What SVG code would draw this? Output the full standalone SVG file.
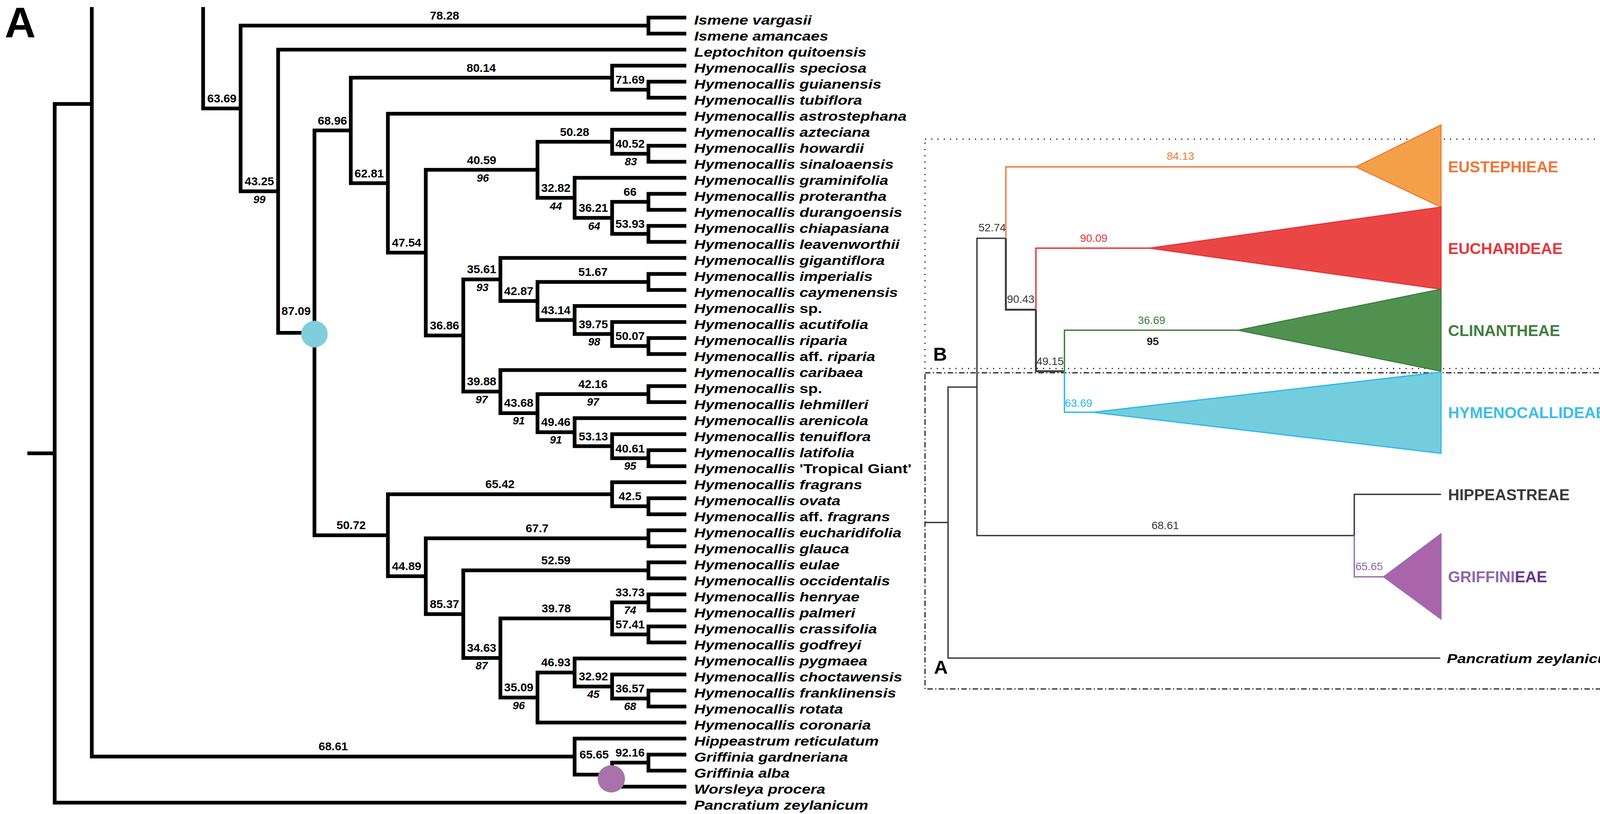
<svg xmlns="http://www.w3.org/2000/svg" width="6333" height="2083" viewBox="0 0 6333 2083">
<style>
.br{fill:none;stroke:#000;stroke-width:9.5;stroke-linejoin:miter;stroke-linecap:butt}
.t{font-family:'Liberation Sans',Arial,sans-serif;font-weight:bold;font-style:italic;font-size:34px;fill:#000}
.u{font-style:normal}
.n{font-family:'Liberation Sans',Arial,sans-serif;font-weight:bold;font-size:30px;text-anchor:middle;fill:#000}
.s{font-family:'Liberation Sans',Arial,sans-serif;font-weight:bold;font-style:italic;font-size:28px;text-anchor:middle;fill:#000}
.m{font-family:'Liberation Sans',Arial,sans-serif;font-size:28px;text-anchor:middle}
.c{font-family:'Liberation Sans',Arial,sans-serif;font-weight:bold;font-size:40px}
.th{fill:none;stroke-width:3.5;stroke-linejoin:miter;stroke-linecap:butt}
.pl{font-family:'Liberation Sans',Arial,sans-serif;font-weight:bold;fill:#000}
</style>
<rect width="6333" height="2083" fill="#fff"/>

<!-- ===== Panel A : left tree ===== -->
<text id="label-A" class="pl" x="12" y="95" font-size="110">A</text>
<g id="treeA-connectors" class="br">
<path d="M1757 45H1660V86H1757M1757 209H1660V250H1757M1757 373H1660V414H1757M1757 496H1660V537H1757M1757 578H1660V619H1757M1757 701H1660V742H1757M1757 865H1660V906H1757M1757 988H1660V1029H1757M1757 1152H1660V1193H1757M1757 1275H1660V1316H1757M1757 1357H1660V1398H1757M1757 1439H1660V1480H1757M1757 1521H1660V1562H1757M1757 1603H1660V1644H1757M1757 1767H1660V1808H1757M1757 1931H1660V1972H1757"/>
<path d="M1757 168H1567V229.5H1660"/>
<path d="M1757 332H1567V393.5H1660"/>
<path d="M1660 516.5H1567V598.5H1660"/>
<path d="M1757 824H1567V885.5H1660"/>
<path d="M1757 1111H1567V1172.5H1660"/>
<path d="M1757 1234H1567V1295.5H1660"/>
<path d="M1660 1541.5H1567V1623.5H1660"/>
<path d="M1757 1726H1567V1787.5H1660"/>
<path d="M1660 1951.5H1567V2013H1757"/>
<path d="M1757 455H1471V557.5H1567"/>
<path d="M1757 783H1471V854.75H1567"/>
<path d="M1757 1070H1471V1141.75H1567"/>
<path d="M1757 1685H1471V1756.75H1567"/>
<path d="M1757 1890H1471V1982.25H1567"/>
<path d="M1567 362.75H1376V506.25H1471"/>
<path d="M1660 721.5H1376V818.9H1471"/>
<path d="M1660 1008.5H1376V1105.9H1471"/>
<path d="M1471 1720.9H1376V1849H1757"/>
<path d="M1757 660H1281V770.2H1376"/>
<path d="M1757 947H1281V1057.2H1376"/>
<path d="M1567 1582.5H1281V1785H1376"/>
<path d="M1281 715.1H1186V1002.1H1281"/>
<path d="M1660 1459.5H1186V1683.7H1281"/>
<path d="M1376 434.5H1090V858.6H1186"/>
<path d="M1660 1377.5H1090V1571.6H1186"/>
<path d="M1757 291H993V646.5H1090"/>
<path d="M1567 1264.75H993V1474.6H1090"/>
<path d="M1567 198.75H898V468.8H993"/>
<path d="M898 333.8H805V1369.7H993"/>
<path d="M1757 127H712V851.7H805"/>
<path d="M1660 65.5H616V489.4H712"/>
<path d="M520 18V277.4H616"/>
<path d="M235 18V1936.1H1471"/>
<path d="M235 266H140V2054H1757"/>
<path d="M70 1160H140"/>
</g>
<g id="treeA-markers">
<circle cx="805" cy="855" r="34" fill="#80CEDC"/>
<circle cx="1565" cy="1993" r="35" fill="#A873A8"/>
</g>
<g id="treeA-branch-labels" class="n">
<text x="1138" y="50">78.28</text>
<text x="568" y="262">63.69</text>
<text x="664" y="474">43.25</text>
<text x="758" y="806">87.09</text>
<text x="851" y="319">68.96</text>
<text x="899" y="1354">50.72</text>
<text x="1232" y="184">80.14</text>
<text x="1613" y="214">71.69</text>
<text x="945" y="454">62.81</text>
<text x="1041" y="631">47.54</text>
<text x="1233" y="420">40.59</text>
<text x="1138" y="843">36.86</text>
<text x="1471" y="348">50.28</text>
<text x="1613" y="378">40.52</text>
<text x="1423" y="491">32.82</text>
<text x="1519" y="542">36.21</text>
<text x="1613" y="501">66</text>
<text x="1613" y="583">53.93</text>
<text x="1233" y="699">35.61</text>
<text x="1328" y="755">42.87</text>
<text x="1518" y="706">51.67</text>
<text x="1423" y="804">43.14</text>
<text x="1519" y="840">39.75</text>
<text x="1613" y="870">50.07</text>
<text x="1233" y="986">39.88</text>
<text x="1328" y="1041">43.68</text>
<text x="1518" y="993">42.16</text>
<text x="1423" y="1090">49.46</text>
<text x="1519" y="1127">53.13</text>
<text x="1613" y="1158">40.61</text>
<text x="1280" y="1249">65.42</text>
<text x="1613" y="1280">42.5</text>
<text x="1041" y="1459">44.89</text>
<text x="1375" y="1362">67.7</text>
<text x="1138" y="1556">85.37</text>
<text x="1423" y="1444">52.59</text>
<text x="1233" y="1668">34.63</text>
<text x="1424" y="1567">39.78</text>
<text x="1613" y="1526">33.73</text>
<text x="1613" y="1608">57.41</text>
<text x="1328" y="1769">35.09</text>
<text x="1423" y="1705">46.93</text>
<text x="1519" y="1741">32.92</text>
<text x="1613" y="1772">36.57</text>
<text x="853" y="1920">68.61</text>
<text x="1521" y="1941">65.65</text>
<text x="1613" y="1936">92.16</text>
</g>
<g id="treeA-support" class="s">
<text x="664" y="520">99</text>
<text x="1236" y="465">96</text>
<text x="1615" y="423">83</text>
<text x="1423" y="537">44</text>
<text x="1521" y="588">64</text>
<text x="1235" y="745">93</text>
<text x="1521" y="884">98</text>
<text x="1233" y="1032">97</text>
<text x="1328" y="1086">91</text>
<text x="1518" y="1038">97</text>
<text x="1423" y="1135">91</text>
<text x="1613" y="1202">95</text>
<text x="1233" y="1713">87</text>
<text x="1613" y="1571">74</text>
<text x="1328" y="1815">96</text>
<text x="1519" y="1786">45</text>
<text x="1613" y="1817">68</text>
</g>
<g id="treeA-taxa" class="t" transform="translate(1777 0) scale(1.18 1)">
<text x="0" y="63">Ismene vargasii</text>
<text x="0" y="104">Ismene amancaes</text>
<text x="0" y="145">Leptochiton quitoensis</text>
<text x="0" y="186">Hymenocallis speciosa</text>
<text x="0" y="227">Hymenocallis guianensis</text>
<text x="0" y="268">Hymenocallis tubiflora</text>
<text x="0" y="309">Hymenocallis astrostephana</text>
<text x="0" y="350">Hymenocallis azteciana</text>
<text x="0" y="391">Hymenocallis howardii</text>
<text x="0" y="432">Hymenocallis sinaloaensis</text>
<text x="0" y="473">Hymenocallis graminifolia</text>
<text x="0" y="514">Hymenocallis proterantha</text>
<text x="0" y="555">Hymenocallis durangoensis</text>
<text x="0" y="596">Hymenocallis chiapasiana</text>
<text x="0" y="637">Hymenocallis leavenworthii</text>
<text x="0" y="678">Hymenocallis gigantiflora</text>
<text x="0" y="719">Hymenocallis imperialis</text>
<text x="0" y="760">Hymenocallis caymenensis</text>
<text x="0" y="801">Hymenocallis <tspan class="u">sp.</tspan></text>
<text x="0" y="842">Hymenocallis acutifolia</text>
<text x="0" y="883">Hymenocallis riparia</text>
<text x="0" y="924">Hymenocallis <tspan class="u">aff.</tspan> riparia</text>
<text x="0" y="965">Hymenocallis caribaea</text>
<text x="0" y="1006">Hymenocallis <tspan class="u">sp.</tspan></text>
<text x="0" y="1047">Hymenocallis lehmilleri</text>
<text x="0" y="1088">Hymenocallis arenicola</text>
<text x="0" y="1129">Hymenocallis tenuiflora</text>
<text x="0" y="1170">Hymenocallis latifolia</text>
<text x="0" y="1211">Hymenocallis <tspan class="u">'Tropical Giant'</tspan></text>
<text x="0" y="1252">Hymenocallis fragrans</text>
<text x="0" y="1293">Hymenocallis ovata</text>
<text x="0" y="1334">Hymenocallis <tspan class="u">aff.</tspan> fragrans</text>
<text x="0" y="1375">Hymenocallis eucharidifolia</text>
<text x="0" y="1416">Hymenocallis glauca</text>
<text x="0" y="1457">Hymenocallis eulae</text>
<text x="0" y="1498">Hymenocallis occidentalis</text>
<text x="0" y="1539">Hymenocallis henryae</text>
<text x="0" y="1580">Hymenocallis palmeri</text>
<text x="0" y="1621">Hymenocallis crassifolia</text>
<text x="0" y="1662">Hymenocallis godfreyi</text>
<text x="0" y="1703">Hymenocallis pygmaea</text>
<text x="0" y="1744">Hymenocallis choctawensis</text>
<text x="0" y="1785">Hymenocallis franklinensis</text>
<text x="0" y="1826">Hymenocallis rotata</text>
<text x="0" y="1867">Hymenocallis coronaria</text>
<text x="0" y="1908">Hippeastrum reticulatum</text>
<text x="0" y="1949">Griffinia gardneriana</text>
<text x="0" y="1990">Griffinia alba</text>
<text x="0" y="2031">Worsleya procera</text>
<text x="0" y="2072">Pancratium zeylanicum</text>
</g>

<!-- ===== Middle summary panel ===== -->
<g id="summary-frames" fill="none" stroke="#222" stroke-width="3">
<rect x="2368" y="356" width="1795" height="587" stroke-dasharray="3 13"/>
<rect x="2368" y="954" width="1795" height="809" stroke-dasharray="14 6 3 6"/>
</g>
<text id="label-B-small" class="pl" x="2389" y="923" font-size="49">B</text>
<text id="label-A-small" class="pl" x="2391" y="1724" font-size="49">A</text>
<g id="summary-clades">
<polygon points="3471,427 3689,320 3689,530" fill="#F4A04A" stroke="#EF7A35" stroke-width="3"/>
<polygon points="2943,635 3689,530 3689,740" fill="#EB4646" stroke="#E63338" stroke-width="3"/>
<polygon points="3170,845 3689,740 3689,950" fill="#509150" stroke="#3E7E3E" stroke-width="3"/>
<polygon points="2798,1055 3689,952 3689,1160" fill="#73CDDC" stroke="#28B8EC" stroke-width="3"/>
<polygon points="3542,1476 3689,1366 3689,1584" fill="#AA64AA" stroke="#9670B4" stroke-width="3"/>
</g>
<g id="summary-connectors" class="th">
<path d="M2368 1337H2427" stroke="#3A3A3A"/>
<path d="M2501 990.4H2427V1684H3687" stroke="#3A3A3A"/>
<path d="M2575 609.75H2501V1370.5H3467" stroke="#3A3A3A"/>
<path d="M3471 427H2575V609.75" stroke="#EF7A35"/>
<path d="M2575 609.75V792.5H2652" stroke="#3A3A3A" stroke-width="5"/>
<path d="M2943 635H2652V792.5" stroke="#E63338"/>
<path d="M2652 792.5V950H2725" stroke="#3A3A3A" stroke-width="5"/>
<path d="M3170 845H2725V950" stroke="#3E7E3E"/>
<path d="M2725 950V1055H2798" stroke="#28B8EC"/>
<path d="M3689 1265H3467V1370.5" stroke="#3A3A3A"/>
<path d="M3467 1370.5V1476H3542" stroke="#9670B4"/>
</g>
<g id="summary-labels">
<text class="m" x="2540" y="592" fill="#3A3A3A">52.74</text>
<text class="m" x="3022" y="409" fill="#EF7A35">84.13</text>
<text class="m" x="2613" y="775" fill="#3A3A3A">90.43</text>
<text class="m" x="2800" y="619" fill="#E63338">90.09</text>
<text class="m" x="2688" y="934" fill="#3A3A3A">49.15</text>
<text class="m" x="2948" y="829" fill="#3E7E3E">36.69</text>
<text class="m" x="2951" y="883" fill="#222" font-weight="bold">95</text>
<text class="m" x="2761" y="1041" fill="#28B8EC">63.69</text>
<text class="m" x="2983" y="1354" fill="#3A3A3A">68.61</text>
<text class="m" x="3505" y="1459" fill="#8E68AE">65.65</text>
<text class="c" x="3707" y="441" fill="#F07636">EUSTEPHIEAE</text>
<text class="c" x="3707" y="650" fill="#E8373C">EUCHARIDEAE</text>
<text class="c" x="3707" y="860" fill="#3F7F3F">CLINANTHEAE</text>
<text class="c" x="3707" y="1070" fill="#3DBDEA">HYMENOCALLIDEAE</text>
<text class="c" x="3707" y="1280" fill="#3A3A3A">HIPPEASTREAE</text>
<text class="c" x="3707" y="1490" fill="#8E68AE">GRIFFINI<tspan fill="#6A3393">EAE</tspan></text>
<text class="t" transform="translate(3704 1697) scale(1.18 1)" x="0" y="0" fill="#222">Pancratium zeylanicum</text>
</g>

<!-- ===== Panel B : right tree ===== -->
<text id="label-B" class="pl" x="4192" y="94" font-size="107">B</text>
<g id="treeB-connectors" class="br">
<path d="M5767 23.5H5672V64.5H5767M5767 146.5H5672V187.5H5767M5767 228.5H5672V269.5H5767M5767 433.5H5672V474.5H5767M5767 515.5H5672V556.5H5767M5767 597.5H5672V638.5H5767M5767 720.5H5672V761.5H5767M5767 802.5H5672V843.5H5767M5767 925.5H5672V966.5H5767M5767 1048.5H5672V1089.5H5767M5767 1212.5H5672V1253.5H5767M5767 1376.5H5672V1417.5H5767M5767 1458.5H5672V1499.5H5767M5767 1622.5H5672V1663.5H5767M5767 1704.5H5672V1745.5H5767M5767 1827.5H5672V1868.5H5767M5767 1909.5H5672V1950.5H5767M5767 1991.5H5672V2032.5H5767"/>
<path d="M5767 105.5H5576V167H5672"/>
<path d="M5672 44H5481V136.25H5576"/>
<path d="M5767 392.5H5576V454H5672"/>
<path d="M5767 351.5H5481V423.25H5576"/>
<path d="M5672 536H5576V618H5672"/>
<path d="M5481 387.4H5387V577H5576"/>
<path d="M5767 884.5H5576V946H5672"/>
<path d="M5672 823H5481V915.25H5576"/>
<path d="M5672 741H5387V869.1H5481"/>
<path d="M5767 679.5H5291V805.05H5387"/>
<path d="M5767 1171.5H5576V1233H5672"/>
<path d="M5767 1130.5H5481V1202.25H5576"/>
<path d="M5767 1335.5H5576V1397H5672"/>
<path d="M5767 1294.5H5481V1366.25H5576"/>
<path d="M5481 1166.4H5387V1330.4H5481"/>
<path d="M5672 1069H5291V1248.4H5387"/>
<path d="M5767 1007.5H5196V1158.7H5291"/>
<path d="M5291 742.3H5101V1083.1H5196"/>
<path d="M5387 482.2H5008V912.7H5101"/>
<path d="M5767 310.5H4912V697.45H5008"/>
<path d="M5672 249H4816V504H4912"/>
<path d="M5767 1581.5H5576V1643H5672"/>
<path d="M5767 1540.5H5481V1612.25H5576"/>
<path d="M5672 1930H5576V2012H5672"/>
<path d="M5672 1848H5481V1971H5576"/>
<path d="M5767 1786.5H5387V1909.5H5481"/>
<path d="M5672 1725H5291V1848H5387"/>
<path d="M5481 1576.4H5196V1786.5H5291"/>
<path d="M5672 1479H5101V1681.45H5196"/>
<path d="M5101 1580.2H4530V2057"/>
<path d="M4816 376.5H4434V1939H4530"/>
<path d="M5481 90.1H4340V1157.75H4434"/>
<path d="M4340 623.9H4246V2057"/>
</g>
<g id="treeB-markers">
<circle cx="5446" cy="84" r="37" fill="#F2A04F"/>
<circle cx="4807" cy="362" r="39" fill="#E84C4C"/>
<circle cx="5095" cy="1566" r="38" fill="#639E63"/>
</g>
<g id="treeB-branch-labels" class="n">
<text x="4293" y="609">52.74</text>
<text x="4911" y="75">84.13</text>
<text x="4387" y="1143">90.43</text>
<text x="4482" y="1924">49.15</text>
<text x="4625" y="361">90.09</text>
<text x="4815" y="1564">36.69</text>
<text x="5576" y="28">94.27</text>
<text x="5528" y="120">79.42</text>
<text x="5624" y="151">57.17</text>
<text x="5244" y="234">95.17</text>
<text x="4864" y="489">45.48</text>
<text x="4960" y="682">45.11</text>
<text x="5197" y="466">72.32</text>
<text x="5054" y="897">65.32</text>
<text x="5434" y="372">90.09</text>
<text x="5528" y="408">40.45</text>
<text x="5624" y="438">42.89</text>
<text x="5481" y="561">90.81</text>
<text x="5624" y="521">57</text>
<text x="5624" y="602">68.25</text>
<text x="5196" y="727">41.4</text>
<text x="5339" y="789">65.58</text>
<text x="5529" y="725">71.44</text>
<text x="5434" y="853">41.68</text>
<text x="5576" y="807">76.09</text>
<text x="5528" y="899">59.42</text>
<text x="5624" y="930">38.62</text>
<text x="5148" y="1066">40.13</text>
<text x="5243" y="1142">42.78</text>
<text x="5481" y="1053">56.17</text>
<text x="5339" y="1232">40.61</text>
<text x="5434" y="1150">45.2</text>
<text x="5528" y="1186">37.63</text>
<text x="5624" y="1217">76.16</text>
<text x="5434" y="1314">48.15</text>
<text x="5528" y="1350">43.11</text>
<text x="5624" y="1381">44.64</text>
<text x="5386" y="1462">78.86</text>
<text x="5148" y="1664">65.24</text>
<text x="5338" y="1560">42.55</text>
<text x="5528" y="1596">64.9</text>
<text x="5624" y="1626">79.78</text>
<text x="5243" y="1769">92.22</text>
<text x="5481" y="1709">55.43</text>
<text x="5339" y="1831">38.21</text>
<text x="5434" y="1892">38.21</text>
<text x="5576" y="1832">42.99</text>
<text x="5528" y="1954">61.54</text>
<text x="5624" y="1913">56.64</text>
<text x="5624" y="1995">39.78</text>
</g>
<g id="treeB-support" class="s">
<text x="4817" y="1614">95</text>
<text x="5483" y="607">99</text>
<text x="5625" y="647">99</text>
<text x="5245" y="1191">81</text>
<text x="5478" y="1099">65</text>
<text x="5341" y="1277">60</text>
<text x="5436" y="1196">55</text>
<text x="5530" y="1236">53</text>
<text x="5436" y="1359">89</text>
<text x="5532" y="1398">89</text>
<text x="5341" y="1878">95</text>
<text x="5436" y="1942">97</text>
</g>
<g id="treeB-taxa" class="t" transform="translate(5796 0) scale(1.18 1)">
<text x="0" y="38.5">Pyrolirion tubiflorum</text>
<text x="0" y="79.5">Pyrolirion albicans</text>
<text x="0" y="120.5">Hieronymiella marginata</text>
<text x="0" y="161.5">Chlidanthus boliviensis</text>
<text x="0" y="202.5">Eustephia darwinii</text>
<text x="0" y="243.5">Rauhia multiflora</text>
<text x="0" y="284.5">Rauhia decora</text>
<text x="0" y="325.5">Plagiolirion horsmannii</text>
<text x="0" y="366.5">Eucrosia bicolor</text>
<text x="0" y="407.5">Eucrosia stricklandii</text>
<text x="0" y="448.5">Eucrosia aurantiaca</text>
<text x="0" y="489.5">Eucrosia mirabilis</text>
<text x="0" y="530.5">Phaedranassa lehmannii</text>
<text x="0" y="571.5">Phaedranassa ventricosa</text>
<text x="0" y="612.5">Phaedranassa cinerea</text>
<text x="0" y="653.5">Phaedranassa carmioli</text>
<text x="0" y="694.5">Caliphruria korsakoffii</text>
<text x="0" y="735.5">Stenomesson pearcei</text>
<text x="0" y="776.5">Stenomesson aurantiacum</text>
<text x="0" y="817.5">Stenomesson leucanthum</text>
<text x="0" y="858.5">Stenomesson chloranthum</text>
<text x="0" y="899.5">Stenomesson flavum</text>
<text x="0" y="940.5">Stenomesson ecuadorense</text>
<text x="0" y="981.5">Stenomesson miniatum</text>
<text x="0" y="1022.5">Urceolina microcrater</text>
<text x="0" y="1063.5">Eucharis sanderi</text>
<text x="0" y="1104.5">Eucharis amazonica</text>
<text x="0" y="1145.5">Eucrosia dodsonii</text>
<text x="0" y="1186.5">Eucharis astrophiala</text>
<text x="0" y="1227.5">Caliphruria subedentata</text>
<text x="0" y="1268.5">Caliphruria tenera</text>
<text x="0" y="1309.5">Eucharis caucana</text>
<text x="0" y="1350.5">Eucharis formosa</text>
<text x="-6.8" y="1391.5">Eucharis bonplandii</text>
<text x="-6.8" y="1432.5">Eucharis <tspan class="u">sp.</tspan></text>
<text x="-6.8" y="1473.5">Pamianthe peruviana</text>
<text x="-6.8" y="1514.5">Pamianthe ecollis</text>
<text x="-6.8" y="1555.5">Paramongaia milagroanthus</text>
<text x="-6.8" y="1596.5">Paramongaia weberbaueri</text>
<text x="-6.8" y="1639.5">Paramongaia multiflora</text>
<text x="-6.8" y="1680.5">Paramongaia viridflorus</text>
<text x="-6.8" y="1719.5">Clinanthus humilis</text>
<text x="-6.8" y="1760.5">Clinanthus ruber</text>
<text x="-6.8" y="1801.5">Clinanthus coccineus</text>
<text x="-6.8" y="1842.5">Clinanthus incarnatus<tspan class="u">PE</tspan></text>
<text x="-6.8" y="1883.5">Clinanthus incarnatus<tspan class="u">EC</tspan></text>
<text x="-6.8" y="1924.5">Clinanthus <tspan class="u">sp.</tspan></text>
<text x="-6.8" y="1965.5">Clinanthus variegatus</text>
<text x="-6.8" y="2006.5">Clinanthus imasumacc</text>
<text x="-6.8" y="2047.5">Clinanthus variegatus</text>
</g>
</svg>
